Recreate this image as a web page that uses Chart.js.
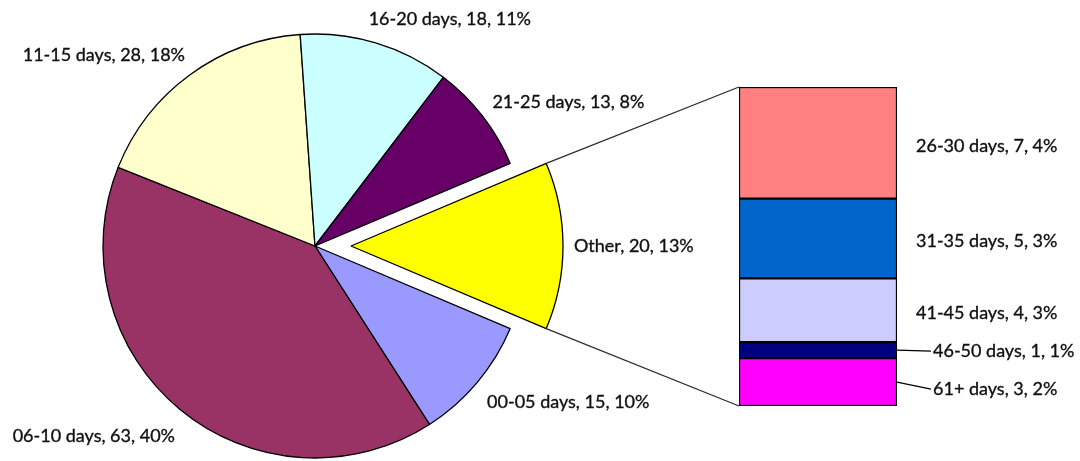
<!DOCTYPE html>
<html><head><meta charset="utf-8">
<script src="https://cdn.jsdelivr.net/npm/chart.js@4.4.1/dist/chart.umd.min.js"></script>
<style>
html,body{margin:0;padding:0;background:#fff;}
#wrap{position:relative;width:1080px;height:461px;}
canvas{position:absolute;left:0;top:0;}
</style></head><body>
<div id="wrap"><canvas id="pie" width="1080" height="461"></canvas><canvas id="bar" width="1080" height="461"></canvas></div>
<script>
// ---- data ----
const pieLabels = ['00-05 days','06-10 days','11-15 days','16-20 days','21-25 days','Other'];
const pieValues = [15, 63, 28, 18, 13, 20];
const pieColors = ['#9999FF','#993366','#FFFFCC','#CCFFFF','#660066','#FFFF00'];
const barLabels = ['26-30 days','31-35 days','41-45 days','46-50 days','61+ days'];
const barValues = [7, 5, 4, 1, 3];
const barColors = ['#FF8080','#0066CC','#CCCCFF','#000080','#FF00FF'];

const total = pieValues.reduce((a,b)=>a+b,0);
const otherIdx = pieLabels.indexOf('Other');
const barTotal = barValues.reduce((a,b)=>a+b,0);
const pct = v => Math.round(v/total*100) + '%';
const labelText = (l,v) => l + ', ' + v + ', ' + pct(v);

// ---- layout / style ----
const FONT = '18px Lato';
const TEXT_COLOR = '#111';
const PIE_RADIUS = 212;
const EXPLODE = 36;
const pieNudge = [[10,20],[-5,27],[-5,-20],[-7,-24],[10,-14],[11,0]];
const barNudge = [[19,3,false],[19,3,false],[19,3,false],[36,1,true],[36,7,true]];

function drawLabel(ctx, text, x, y){
  ctx.fillText(text, x, y);
  ctx.strokeText(text, x, y);
}
function setTextStyle(ctx){
  ctx.font = FONT; ctx.fillStyle = TEXT_COLOR; ctx.textBaseline = 'middle';
  ctx.lineWidth = 0.35; ctx.lineJoin = 'round';
}

const explodePlugin = {
  id:'explode',
  afterUpdate(chart){
    const arc = chart.getDatasetMeta(0).data[otherIdx];
    const mid = (arc.startAngle + arc.endAngle)/2;
    arc.x += Math.cos(mid)*EXPLODE;
    arc.y += Math.sin(mid)*EXPLODE;
  }
};
const pieLabelPlugin = {
  id:'pieLabels',
  afterDraw(chart){
    const ctx = chart.ctx, meta = chart.getDatasetMeta(0);
    ctx.save();
    setTextStyle(ctx); ctx.strokeStyle = TEXT_COLOR;
    meta.data.forEach((arc,i)=>{
      const mid = (arc.startAngle + arc.endAngle)/2;
      const px = arc.x + Math.cos(mid)*arc.outerRadius;
      const py = arc.y + Math.sin(mid)*arc.outerRadius;
      ctx.textAlign = Math.cos(mid) >= 0 ? 'left' : 'right';
      drawLabel(ctx, labelText(pieLabels[i], pieValues[i]), px + pieNudge[i][0], py + pieNudge[i][1]);
    });
    ctx.restore();
  }
};

const pieChart = new Chart(document.getElementById('pie'), {
  type:'pie',
  data:{labels:pieLabels, datasets:[{
    data:pieValues, backgroundColor:pieColors, borderColor:'#000', borderWidth:1.3,
    radius:PIE_RADIUS, rotation: 90 + pieValues[otherIdx]/total*180, hoverOffset:0
  }]},
  options:{
    responsive:false, animation:false, events:[],
    rotation: 90 + pieValues[otherIdx]/total*180,
    layout:{padding:{left:0, right:450, top:31, bottom:0}},
    plugins:{legend:{display:false}, tooltip:{enabled:false}}
  },
  plugins:[explodePlugin, pieLabelPlugin]
});

const barPlugin = {
  id:'barExtras',
  afterDraw(chart){
    const ctx = chart.ctx;
    const arc = pieChart.getDatasetMeta(0).data[otherIdx];
    const topEl = chart.getDatasetMeta(0).data[0];
    const botEl = chart.getDatasetMeta(barLabels.length-1).data[0];
    const left = topEl.x - topEl.width/2;
    const topY = Math.min(topEl.y, topEl.base);
    const botY = Math.max(botEl.y, botEl.base);
    const r = arc.outerRadius;
    ctx.save();
    ctx.strokeStyle = '#2a2a2a'; ctx.lineWidth = 1.2;
    ctx.beginPath();
    ctx.moveTo(arc.x + r*Math.cos(arc.startAngle), arc.y + r*Math.sin(arc.startAngle));
    ctx.lineTo(left, topY);
    ctx.moveTo(arc.x + r*Math.cos(arc.endAngle), arc.y + r*Math.sin(arc.endAngle));
    ctx.lineTo(left, botY);
    ctx.stroke();
    setTextStyle(ctx); ctx.textAlign = 'left';
    barLabels.forEach((l,i)=>{
      const el = chart.getDatasetMeta(i).data[0];
      const right = el.x + el.width/2;
      const mid = (el.y + el.base)/2;
      const [dx,dy,leader] = barNudge[i];
      if (leader){
        ctx.save(); ctx.strokeStyle = '#000'; ctx.lineWidth = 1.2;
        ctx.beginPath(); ctx.moveTo(right, mid); ctx.lineTo(right+dx-2, mid+dy); ctx.stroke();
        ctx.restore();
      }
      ctx.strokeStyle = TEXT_COLOR;
      drawLabel(ctx, labelText(l, barValues[i]), right+dx, mid+dy);
    });
    ctx.restore();
  }
};

new Chart(document.getElementById('bar'), {
  type:'bar',
  data:{labels:['Other'], datasets: barLabels.map((l,i)=>({
    label:l, data:[barValues[i]], backgroundColor:barColors[i], borderColor:'#000',
    borderWidth:1.5, borderSkipped:false, categoryPercentage:1, barPercentage:1
  }))},
  options:{
    responsive:false, animation:false, events:[],
    layout:{padding:{left:739, right:183, top:87, bottom:55}},
    scales:{
      x:{display:false, stacked:true},
      y:{display:false, stacked:true, reverse:true, min:0, max:barTotal}
    },
    plugins:{legend:{display:false}, tooltip:{enabled:false}}
  },
  plugins:[barPlugin]
});
</script>
</body></html>
